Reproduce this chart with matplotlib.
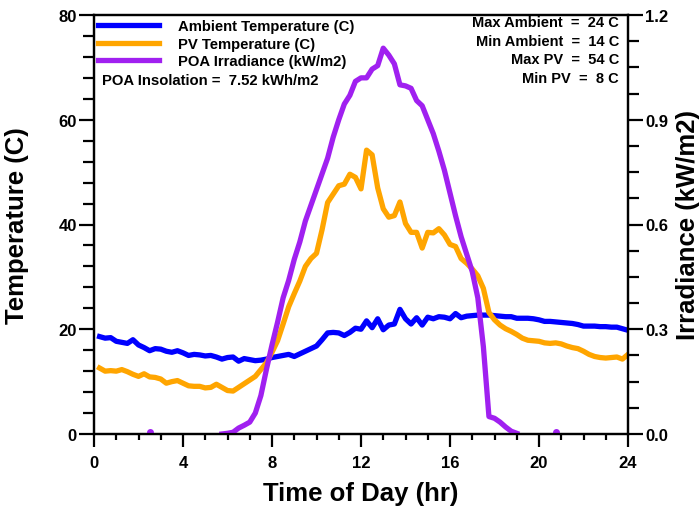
import numpy as np
import matplotlib
matplotlib.use("Agg")
from matplotlib import pyplot as plt
from matplotlib.ticker import MultipleLocator

plt.rcParams['font.family'] = ['Liberation Sans', 'DejaVu Sans']
plt.rcParams['font.weight'] = 'bold'

# hora do dia, de 15 em 15 minutos
hours = np.arange(0.25, 24.01, 0.25)

# temperatura ambiente (C)
ambient = [18.6, 18.3, 18.4, 17.7, 17.5, 17.3, 18.0, 17.0, 16.5, 15.9, 16.3, 16.2,
           15.8, 15.6, 15.9, 15.5, 15.0, 15.2, 15.1, 14.9, 15.0, 14.7, 14.3, 14.6,
           14.7, 13.9, 14.4, 14.2, 14.0, 14.1, 14.3, 14.6, 14.8, 15.0, 15.2, 14.8,
           15.3, 15.8, 16.3, 16.8, 18.0, 19.3, 19.4, 19.3, 18.8, 19.4, 20.2, 20.0,
           21.6, 20.3, 22.0, 19.9, 20.8, 21.0, 23.8, 22.0, 21.0, 22.2, 20.8, 22.3,
           22.0, 22.4, 22.3, 22.0, 23.0, 22.2, 22.5, 22.6, 22.7, 22.7, 22.7, 22.6,
           22.5, 22.4, 22.4, 22.1, 22.1, 22.1, 22.0, 21.8, 21.5, 21.5, 21.4, 21.3,
           21.2, 21.1, 20.9, 20.6, 20.6, 20.6, 20.5, 20.5, 20.4, 20.4, 20.1, 19.8]

# temperatura do modulo PV (C)
pvTemp = [12.6, 12.0, 12.1, 12.0, 12.3, 11.9, 11.4, 11.0, 11.5, 10.9, 10.8, 10.5,
          9.7, 10.0, 10.2, 9.7, 9.2, 9.1, 9.1, 8.8, 8.9, 9.5, 8.9, 8.3,
          8.2, 8.9, 9.6, 10.3, 11.0, 12.3, 13.6, 15.6, 17.8, 21.0, 24.3, 26.8,
          29.2, 32.0, 33.5, 34.5, 39.0, 44.2, 45.8, 47.4, 47.7, 49.6, 49.0, 46.8,
          54.2, 53.3, 47.0, 43.0, 41.4, 41.7, 44.3, 40.2, 38.5, 38.5, 35.5, 38.5,
          38.4, 39.2, 38.0, 36.2, 35.8, 33.5, 32.6, 31.5, 30.2, 27.8, 23.2, 21.8,
          20.8, 20.1, 19.6, 19.0, 18.3, 17.9, 17.8, 17.7, 17.4, 17.3, 17.4, 17.2,
          16.8, 16.5, 16.3, 15.8, 15.2, 14.8, 14.6, 14.5, 14.6, 14.7, 14.3, 15.2]

# irradiancia no plano (kW/m2), nan = sem leitura
nan = np.nan
irradiance = [nan, nan, nan, nan, nan, nan, nan, nan, nan, 0.005, nan, nan,
              nan, nan, nan, nan, nan, nan, nan, nan, nan, nan, 0.0, 0.002,
              0.005, 0.017, 0.025, 0.034, 0.06, 0.11, 0.185, 0.255, 0.32, 0.39, 0.44, 0.50,
              0.55, 0.61, 0.655, 0.70, 0.745, 0.79, 0.85, 0.90, 0.945, 0.97, 1.01, 1.02,
              1.02, 1.045, 1.055, 1.105, 1.085, 1.06, 1.00, 0.997, 0.99, 0.955, 0.94, 0.90,
              0.86, 0.81, 0.755, 0.69, 0.625, 0.565, 0.515, 0.465, 0.39, 0.25, 0.05, 0.045,
              0.034, 0.02, 0.008, 0.002, nan, nan, nan, nan, nan, nan, 0.005, nan,
              nan, nan, nan, nan, nan, nan, nan, nan, nan, nan, nan, nan]

legendLabels = ['Ambient Temperature (C)', 'PV Temperature (C)', 'POA Irradiance (kW/m2)']
statsText = ['Max Ambient  =  24 C', 'Min Ambient  =  14 C', 'Max PV  =  54 C', 'Min PV  =  8 C']
insolationText = 'POA Insolation =  7.52 kWh/m2'

fig = plt.figure(figsize=(6.99, 5.10), dpi=100)
ax = fig.add_axes([94/699, 75/510, 534/699, 419/510])
ax2 = ax.twinx()

lw = 3.8
l1, = ax.plot(hours, ambient, color='#0000FF', lw=lw, solid_joinstyle='round')
l2, = ax.plot(hours, pvTemp, color='#FFA500', lw=lw, solid_joinstyle='round')
l3, = ax2.plot(hours, irradiance, color='#A020F0', lw=lw, solid_joinstyle='round')

# pontos isolados da irradiancia aparecem como bolinhas
irr = np.array(irradiance)
padded = np.concatenate([[nan], irr, [nan]])
isolated = ~np.isnan(irr) & np.isnan(padded[:-2]) & np.isnan(padded[2:])
ax2.plot(hours[isolated], irr[isolated], 'o', color='#A020F0', ms=5, mew=0)

ax.set_xlim(0, 24)
ax.set_ylim(0, 80)
ax2.set_ylim(0, 1.2)
ax.xaxis.set_major_locator(MultipleLocator(4))
ax.xaxis.set_minor_locator(MultipleLocator(1))
ax.yaxis.set_major_locator(MultipleLocator(20))
ax.yaxis.set_minor_locator(MultipleLocator(4))
ax2.yaxis.set_major_locator(MultipleLocator(0.3))
ax2.yaxis.set_minor_locator(MultipleLocator(0.075))
ax2.set_yticklabels(['%.1f' % v for v in ax2.get_yticks()])

for a in (ax, ax2):
    for s in a.spines.values():
        s.set_linewidth(1.6)
    a.tick_params(axis='y', which='major', length=10.5, width=1.6, labelsize=12, pad=2)
    a.tick_params(axis='y', which='minor', length=8, width=1.6)
ax.tick_params(axis='x', which='major', length=9, width=1.6, labelsize=12, pad=6)
ax.tick_params(axis='x', which='minor', length=4.5, width=1.6)

ax.set_xlabel('Time of Day (hr)', fontsize=18.5, fontweight='bold', va='center')
ax.set_ylabel('Temperature (C)', fontsize=18.5, fontweight='bold', va='center')
ax2.set_ylabel('Irradiance (kW/m2)', fontsize=18.5, fontweight='bold', va='center')
ax.xaxis.set_label_coords(0.5, -0.141)
ax.yaxis.set_label_coords(-0.144, 0.5)
ax2.yaxis.set_label_coords(1.112, 0.5)

ax.legend([l1, l2, l3], legendLabels, loc='upper left', frameon=False, fontsize=10.7,
          handlelength=4.1, handletextpad=1.25, labelspacing=0.22,
          borderaxespad=0.0, borderpad=0.3, bbox_to_anchor=(0.0, 1.0))
ax.text(0.015, 0.8456, insolationText, transform=ax.transAxes, fontsize=10.7,
        fontweight='bold', va='center', ha='left')

for i, t in enumerate(statsText):
    ax.text(0.983, 0.9826 - i * 0.0444, t, transform=ax.transAxes, fontsize=10.5,
            fontweight='bold', va='center', ha='right')

fig.savefig('out.png', dpi=100)
